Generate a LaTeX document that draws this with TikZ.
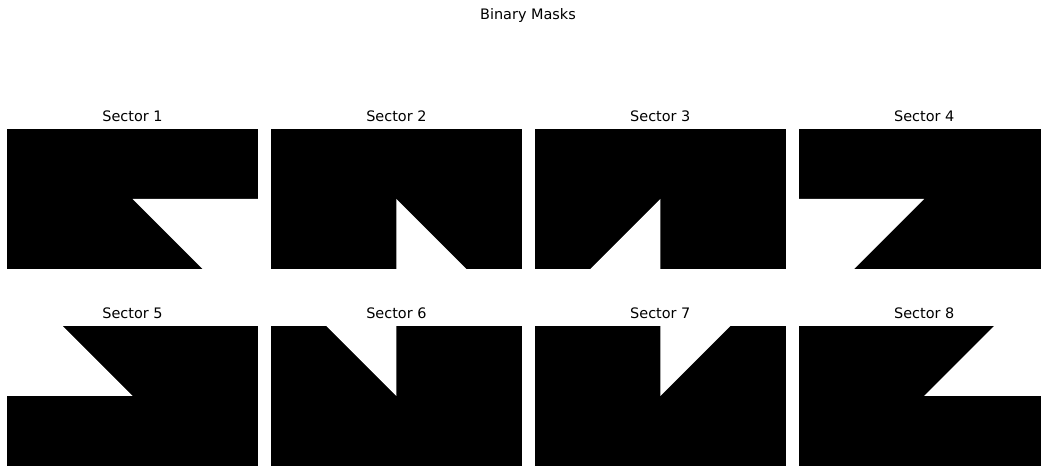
\documentclass[tikz,border=0pt]{standalone}
\usepackage{fontspec}
\setmainfont{DejaVu Sans}
\usetikzlibrary{calc}
\tikzstyle{panel}=[fill=black]
\tikzstyle{hole}=[fill=white]
\tikzstyle{caption}=[font=\fontsize{10.4}{12}\selectfont, anchor=base, inner sep=0pt]

\begin{document}
\begin{tikzpicture}[x=0.72pt, y=0.72pt]
			\useasboundingbox (0,0) rectangle (1041,467);
			\node[caption] (title) at (528,447.5) {Binary Masks};
			\foreach \k in {1,...,8}{
				\pgfmathtruncatemacro{\col}{mod(\k-1,4)}
				\pgfmathtruncatemacro{\row}{int((\k-1)/4)}
				\pgfmathsetmacro{\xl}{7+263.9*\col}
				\pgfmathsetmacro{\yb}{198-197*\row}
				\pgfmathsetmacro{\aa}{45-45*\k}
				\pgfmathsetmacro{\ab}{-45*\k}
				\begin{scope}
					\clip (\xl,\yb) rectangle ++(251,140);
					\fill[panel] (\xl,\yb) rectangle ++(251,140);
					\coordinate (c\k) at (\xl+125.5,\yb+70);
					\fill[hole] (c\k) -- +(\aa:300) -- +(\ab:300) -- cycle;
				\end{scope}
				\node[caption] (label\k) at (\xl+125.5,\yb+147.5) {Sector \k};
			}
		\end{tikzpicture}
\end{document}
